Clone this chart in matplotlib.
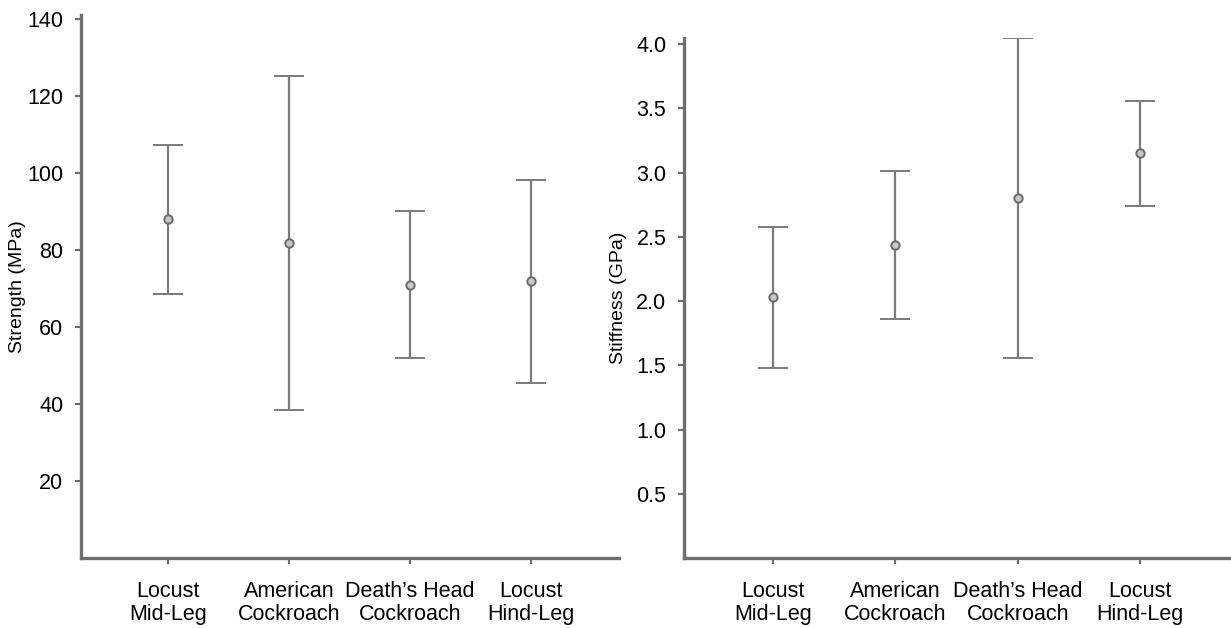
import numpy as np
import matplotlib
matplotlib.use("Agg")
import matplotlib.pyplot as plt

plt.rcParams['font.family'] = ['Liberation Sans', 'DejaVu Sans']

categories = ["Locust\nMid-Leg", "American\nCockroach", "Death\u2019s Head\nCockroach", "Locust\nHind-Leg"]

strength_mean = [87.9, 81.8, 71.0, 71.8]
strength_err = [19.4, 43.3, 19.0, 26.3]
strength_ticks = [20, 40, 60, 80, 100, 120, 140]

stiffness_mean = [2.03, 2.44, 2.80, 3.15]
stiffness_err = [0.55, 0.575, 1.245, 0.41]
stiffness_ticks = [0.5, 1.0, 1.5, 2.0, 2.5, 3.0, 3.5, 4.0]

SPINE = '#6e6e6e'
BAR = '#7a7a7a'


def style_axes(ax, ylim, yticks, ylabel, labelpad):
    x = np.arange(len(categories))
    ax.set_xlim(-0.72, 3.73)
    ax.set_ylim(*ylim)
    ax.set_xticks(x)
    ax.set_xticklabels(categories, fontsize=15.5, linespacing=1.15)
    ax.set_yticks(yticks)
    ax.set_yticklabels([f"{t:g}" if isinstance(t, int) else f"{t:.1f}" for t in yticks], fontsize=15.5)
    ax.set_ylabel(ylabel, fontsize=14, labelpad=labelpad)
    for s in ['top', 'right']:
        ax.spines[s].set_visible(False)
    for s in ['left', 'bottom']:
        ax.spines[s].set_color(SPINE)
        ax.spines[s].set_linewidth(2.4)
    ax.tick_params(axis='both', direction='out', length=4, width=1.5, color=SPINE)
    ax.tick_params(axis='y', pad=9)
    ax.tick_params(axis='x', pad=12)


def draw(ax, mean, err):
    x = np.arange(len(categories))
    ax.errorbar(x, mean, yerr=err, fmt='o', color=BAR, ecolor=BAR, elinewidth=1.6,
                capsize=11, capthick=1.6, markersize=6, markerfacecolor='#c8c8c8',
                markeredgecolor='#6a6a6a', markeredgewidth=1.4)


fig = plt.figure(figsize=(12.31, 6.28), dpi=100)
ax1 = fig.add_axes([0.066, 0.111, 0.437, 0.865])
ax2 = fig.add_axes([0.556, 0.111, 0.443, 0.829])

draw(ax1, strength_mean, strength_err)
style_axes(ax1, (0, 140.9), strength_ticks, "Strength (MPa)", 1)

draw(ax2, stiffness_mean, stiffness_err)
style_axes(ax2, (0, 4.05), stiffness_ticks, "Stiffness (GPa)", 7)

fig.savefig("out.png", dpi=100, facecolor='white')
